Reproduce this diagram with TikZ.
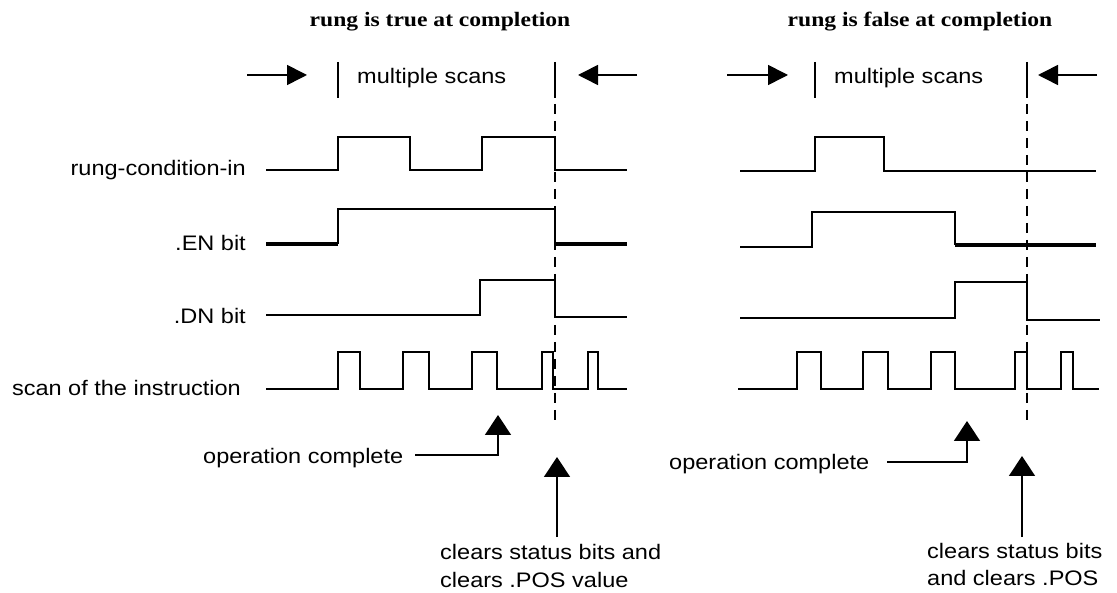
\documentclass[tikz,border=0pt]{standalone}
\usepackage{fontspec}
\setmainfont{Liberation Sans}[FakeStretch=1.12]
\newfontfamily\titlefont{Liberation Serif}[FakeStretch=1.15]
\usetikzlibrary{arrows.meta}
\tikzset{
  sig/.style={line width=1.6pt, line join=miter},
  thicksig/.style={line width=3.4pt},
  lbl/.style={font=\fontsize{21}{25}\selectfont, inner sep=0pt, text height=15pt, text depth=4pt},
  ttl/.style={font=\titlefont\bfseries\fontsize{20.5}{24}\selectfont, inner sep=0pt},
  pointer/.style={line width=1.6pt, -{Triangle[width=26pt,length=20pt]}},
  topar/.style={line width=1.6pt, -{Triangle[width=20pt,length=20pt]}},
  dashln/.style={line width=1.6pt, dash pattern=on 10pt off 7pt},
  tick/.style={line width=1.6pt}
}
\begin{document}
\begin{tikzpicture}[x=1pt,y=-1pt]
\useasboundingbox (0,0) rectangle (1117,593);
\fill[white] (0,0) rectangle (1117,593);

% titles
\node[ttl, anchor=base] (tL) at (440,27) {rung is true at completion};
\node[ttl, anchor=base] (tR) at (920,27) {rung is false at completion};

% signal labels
\node[lbl, anchor=east] (lRung) at (246,170) {rung-condition-in};
\node[lbl, anchor=east] (lEN) at (246,245) {.EN bit};
\node[lbl, anchor=east] (lDN) at (246,318) {.DN bit};
\node[lbl, anchor=east] (lScan) at (241,390) {scan of the instruction};

% ===== left panel =====
\node[lbl, anchor=west] (msL) at (357,78) {multiple scans};
\coordinate (aL1) at (247,75); \coordinate (aL2) at (307,75);
\coordinate (aL3) at (637,75); \coordinate (aL4) at (578,75);
\draw[topar] (aL1) -- (aL2);
\draw[topar] (aL3) -- (aL4);
\draw[tick] (338,62) -- (338,98);
\draw[tick] (555,62) -- (555,98);
\draw[dashln] (555,104) -- (555,427);

\draw[sig] (266,170) -- (338,170) -- (338,137) -- (410,137) -- (410,170) -- (482,170) -- (482,137) -- (555,137) -- (555,170) -- (627,170);
\draw[thicksig] (266,244) -- (338,244);
\draw[sig] (338,244) -- (338,209) -- (555,209) -- (555,244);
\draw[thicksig] (555,244) -- (627,244);
\draw[sig] (266,315) -- (480,315) -- (480,280) -- (555,280) -- (555,317) -- (627,317);
\draw[sig] (266,389) -- (338,389) -- (338,352) -- (360,352) -- (360,389)
  -- (403,389) -- (403,352) -- (429,352) -- (429,389)
  -- (472,389) -- (472,352) -- (497,352) -- (497,389)
  -- (542,389) -- (542,352) -- (553,352) -- (553,389)
  -- (588,389) -- (588,352) -- (598,352) -- (598,389) -- (627,389);

\node[lbl, anchor=west] (opL) at (203,458) {operation complete};
\coordinate (opLs) at (415,455);
\coordinate (opLt) at (498,415);
\draw[pointer] (opLs) -| (opLt);

\node[lbl, anchor=base west] (clL1) at (440,559) {clears status bits and};
\node[lbl, anchor=base west] (clL2) at (440,587) {clears .POS value};
\coordinate (clLs) at (557,537);
\coordinate (clLt) at (557,457);
\draw[pointer] (clLs) -- (clLt);

% ===== right panel =====
\node[lbl, anchor=west] (msR) at (834,78) {multiple scans};
\coordinate (aR1) at (727,75); \coordinate (aR2) at (788,75);
\coordinate (aR3) at (1097,75); \coordinate (aR4) at (1038,75);
\draw[topar] (aR1) -- (aR2);
\draw[topar] (aR3) -- (aR4);
\draw[tick] (815,62) -- (815,98);
\draw[tick] (1027,62) -- (1027,98);
\draw[dashln] (1027,104) -- (1027,427);

\draw[sig] (740,171) -- (815,171) -- (815,137) -- (884,137) -- (884,171) -- (1096,171);
\draw[sig] (740,247) -- (812,247) -- (812,212) -- (955,212) -- (955,245);
\draw[thicksig] (955,245) -- (1096,245);
\draw[sig] (740,318) -- (955,318) -- (955,282) -- (1027,282) -- (1027,320) -- (1100,320);
\draw[sig] (738,389) -- (797,389) -- (797,352) -- (821,352) -- (821,389)
  -- (863,389) -- (863,352) -- (888,352) -- (888,389)
  -- (931,389) -- (931,352) -- (955,352) -- (955,389)
  -- (1015,389) -- (1015,352) -- (1027,352) -- (1027,389)
  -- (1061,389) -- (1061,352) -- (1073,352) -- (1073,389) -- (1099,389);

\node[lbl, anchor=west] (opR) at (669,464) {operation complete};
\coordinate (opRs) at (887,462);
\coordinate (opRt) at (967,421);
\draw[pointer] (opRs) -| (opRt);

\node[lbl, anchor=base west] (clR1) at (927,558) {clears status bits};
\node[lbl, anchor=base west] (clR2) at (927,585) {and clears .POS};
\coordinate (clRs) at (1022,537);
\coordinate (clRt) at (1022,456);
\draw[pointer] (clRs) -- (clRt);
\end{tikzpicture}
\end{document}
